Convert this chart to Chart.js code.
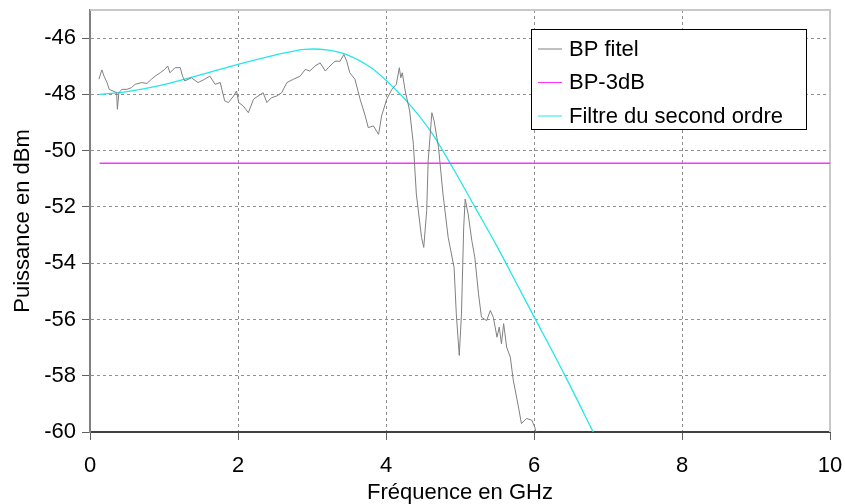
<!DOCTYPE html>
<html><head><meta charset="utf-8">
<script src="https://cdn.jsdelivr.net/npm/chart.js@4.4.1/dist/chart.umd.min.js"></script>
<style>html,body{margin:0;padding:0;background:#fff;}#wrap{width:845px;height:504px;}</style>
</head><body><div id="wrap"><canvas id="c" width="845" height="504"></canvas></div>
<script>
const seriesNames = ["BP fitel", "BP-3dB", "Filtre du second ordre"];
const fitelX = [0.12,0.16,0.19,0.23,0.26,0.31,0.36,0.37,0.39,0.43,0.50,0.56,0.61,0.70,0.77,0.83,0.88,0.95,1.01,1.05,1.08,1.15,1.22,1.25,1.28,1.37,1.46,1.55,1.62,1.69,1.76,1.82,1.87,1.94,1.98,2.01,2.07,2.14,2.21,2.27,2.34,2.39,2.45,2.52,2.59,2.66,2.75,2.84,2.91,2.97,3.04,3.11,3.18,3.22,3.31,3.38,3.43,3.47,3.51,3.58,3.65,3.72,3.76,3.83,3.90,3.94,4.01,4.08,4.14,4.18,4.20,4.22,4.26,4.32,4.37,4.41,4.48,4.51,4.55,4.57,4.62,4.65,4.71,4.77,4.84,4.92,4.95,4.99,5.02,5.05,5.07,5.11,5.16,5.20,5.25,5.29,5.36,5.41,5.45,5.50,5.53,5.56,5.59,5.63,5.68,5.72,5.79,5.83,5.90,5.97,6.01,6.03];
const fitelY = [-47.46,-47.13,-47.35,-47.58,-47.82,-47.88,-47.94,-48.53,-47.94,-47.82,-47.82,-47.76,-47.64,-47.58,-47.61,-47.46,-47.35,-47.23,-47.11,-46.99,-47.23,-47.05,-47.05,-47.35,-47.52,-47.41,-47.58,-47.46,-47.35,-47.64,-47.58,-48.23,-48.29,-48.06,-47.88,-48.29,-48.41,-48.65,-48.17,-48.06,-47.94,-48.29,-48.12,-48.06,-47.94,-47.58,-47.46,-47.35,-47.11,-47.17,-46.99,-46.88,-47.17,-47.05,-46.82,-46.82,-46.58,-46.82,-47.23,-47.46,-48.17,-48.77,-49.18,-49.12,-49.42,-48.77,-48.17,-47.82,-47.64,-47.05,-47.41,-47.23,-47.88,-48.59,-49.77,-51.54,-53.08,-53.44,-52.13,-50.36,-48.65,-48.94,-49.89,-51.54,-53.08,-54.15,-55.80,-57.28,-55.80,-52.73,-51.72,-52.25,-53.20,-53.79,-55.09,-55.92,-56.04,-55.68,-55.92,-56.63,-56.27,-56.86,-56.15,-56.98,-57.34,-58.16,-59.11,-59.70,-59.52,-59.58,-59.82,-60.05];
const bp3dbX = [0.13, 10];
const bp3dbY = [-50.45, -50.45];
const filtreX = [0.13,0.5,1.0,1.5,2.0,2.5,2.9,3.2,3.5,3.8,4.0,4.3,4.6,4.9,5.2,5.5,5.8,6.0,6.4,6.8];
const filtreY = [-48.0,-47.9,-47.65,-47.3,-46.93,-46.6,-46.4,-46.42,-46.62,-47.05,-47.5,-48.3,-49.3,-50.6,-52.0,-53.4,-54.9,-55.9,-57.9,-60.0];
const xTicks = [0,2,4,6,8,10];
const yTicks = [-60,-58,-56,-54,-52,-50,-48,-46];
const xTitle = "Fréquence en GHz";
const yTitle = "Puissance en dBm";

const pts = (xs, ys) => xs.map((x, i) => ({x: x, y: ys[i]}));
const colors = ["#808080", "#ff33ff", "#22e8e8"];
const FONT = "'Liberation Sans', Arial, sans-serif";

const frame = {
  id: 'frame',
  beforeDatasetsDraw(chart) {
    const a = chart.chartArea, ctx = chart.ctx;
    ctx.save();
    ctx.strokeStyle = '#c8c8c8';
    ctx.lineWidth = 2;
    ctx.beginPath();
    ctx.moveTo(a.left, a.top); ctx.lineTo(a.right, a.top); ctx.lineTo(a.right, a.bottom);
    ctx.stroke();
    ctx.restore();
  }
};
const legendBox = {
  id: 'legendBox',
  afterDraw(chart) {
    const ctx = chart.ctx;
    const L = 531.5, T = 29.5, W = 275, H = 100;
    ctx.save();
    ctx.fillStyle = '#fff';
    ctx.fillRect(L, T, W, H);
    ctx.strokeStyle = '#000';
    ctx.lineWidth = 1;
    ctx.strokeRect(L, T, W, H);
    ctx.font = '22px ' + FONT;
    ctx.textBaseline = 'middle';
    ctx.fillStyle = '#000';
    const rows = [48.5, 82, 115.5];
    chart.data.datasets.forEach((ds, i) => {
      ctx.strokeStyle = ds.borderColor;
      ctx.lineWidth = 1;
      ctx.beginPath();
      ctx.moveTo(538, rows[i] + 0.5); ctx.lineTo(562, rows[i] + 0.5);
      ctx.stroke();
      ctx.fillText(ds.label, 569, rows[i] + 1);
    });
    ctx.restore();
  }
};

new Chart(document.getElementById('c'), {
  type: 'scatter',
  data: {
    datasets: [
      {label: seriesNames[0], data: pts(fitelX, fitelY), showLine: true, borderColor: colors[0], borderWidth: 1, pointRadius: 0, tension: 0},
      {label: seriesNames[1], data: pts(bp3dbX, bp3dbY), showLine: true, borderColor: colors[1], borderWidth: 1.5, pointRadius: 0},
      {label: seriesNames[2], data: pts(filtreX, filtreY), showLine: true, borderColor: colors[2], borderWidth: 1.3, pointRadius: 0, tension: 0.3}
    ]
  },
  options: {
    responsive: false,
    animation: false,
    layout: {padding: {top: 10, right: 15, left: 0, bottom: 0}},
    plugins: {legend: {display: false}, tooltip: {enabled: false}},
    scales: {
      x: {
        type: 'linear', min: 0, max: 10,
        afterBuildTicks: s => { s.ticks = xTicks.map(v => ({value: v})); },
        afterFit: s => { s.height = 72; s.paddingRight = 0; s.paddingLeft = 0; },
        ticks: {color: '#000', font: {family: FONT, size: 22}, padding: 13, maxRotation: 0},
        grid: {color: '#909090', tickLength: 8, tickColor: '#606060', tickBorderDash: [], lineWidth: 1},
        border: {display: true, color: '#404040', width: 2, dash: [3, 3]},
        title: {display: true, text: xTitle, color: '#000', font: {family: FONT, size: 22}, padding: {top: 0, bottom: -2}}
      },
      y: {
        type: 'linear', min: -60, max: -45,
        afterBuildTicks: s => { s.ticks = yTicks.map(v => ({value: v})); },
        afterFit: s => { s.width = 90; s.paddingTop = 0; s.paddingBottom = 0; },
        ticks: {color: '#000', font: {family: FONT, size: 22}, padding: 6},
        grid: {color: '#909090', tickLength: 8, tickColor: '#606060', tickBorderDash: [], lineWidth: 1},
        border: {display: true, color: '#808080', width: 2, dash: [3, 3]},
        title: {display: true, text: yTitle, color: '#000', font: {family: FONT, size: 22}, padding: {top: 10, bottom: 0}}
      }
    }
  },
  plugins: [frame, legendBox]
});
</script></body></html>
